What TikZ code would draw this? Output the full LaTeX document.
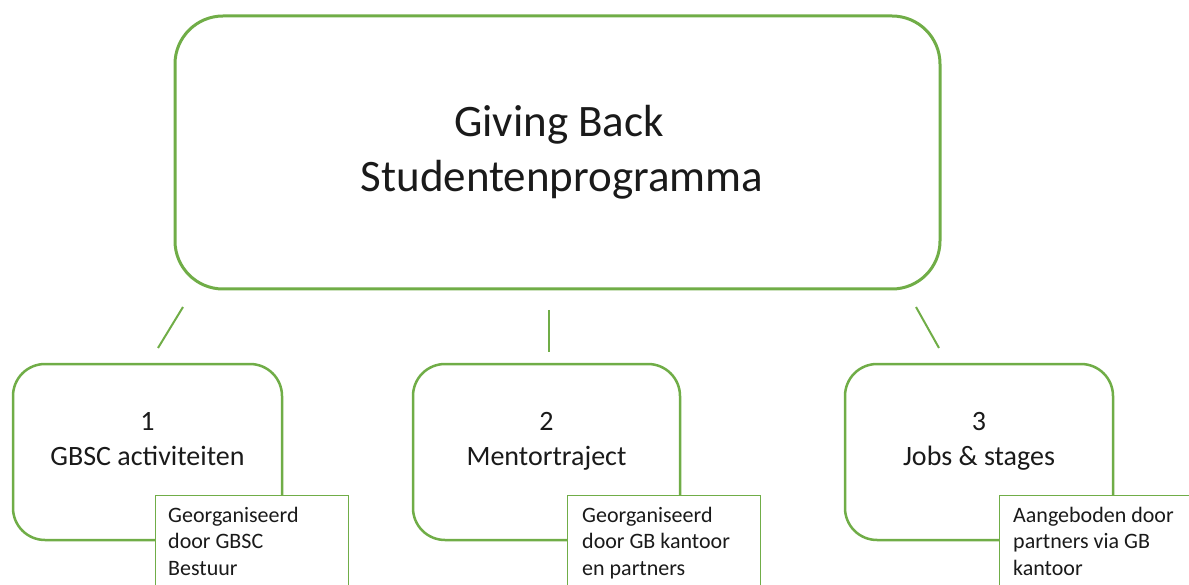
\documentclass[tikz,border=0pt]{standalone}
\usepackage{fontspec}
\setmainfont{Carlito}
\definecolor{gbgreen}{HTML}{70AD47}
\definecolor{txt}{HTML}{1A1A1A}
\begin{document}
\begin{tikzpicture}[x=1pt,y=-1pt,
  mainbox/.style={draw=gbgreen, line width=3pt, rounded corners=48pt, fill=white, inner sep=0pt},
  subbox/.style={draw=gbgreen, line width=2.5pt, rounded corners=32pt, fill=white, inner sep=0pt, minimum height=176pt},
  notebox/.style={draw=gbgreen, line width=1pt, fill=white, inner sep=0pt, anchor=north west, minimum width=193pt, minimum height=110pt},
  conn/.style={draw=gbgreen, line width=2pt},
  titletext/.style={font=\fontsize{45}{55}\selectfont, text=txt, anchor=base, inner sep=0pt},
  boxtext/.style={font=\fontsize{28}{35}\selectfont, text=txt, anchor=base, inner sep=0pt},
  notetext/.style={font=\fontsize{22}{26.5}\selectfont, text=txt, anchor=base west, inner sep=0pt, align=left}
]
\useasboundingbox (0,0) rectangle (1189,585);
\clip (0,0) rectangle (1189,585);

% main box
\node[mainbox, minimum width=765pt, minimum height=273pt] (top) at (557.5,152.5) {};
\node[titletext] (t1) at (559,137) {Giving Back};
\node[titletext] (t2) at (562,192) {Studentenprogramma};

% sub boxes
\node[subbox, minimum width=269pt] (b1) at (147.5,452) {};
\node[subbox, minimum width=267pt] (b2) at (546.5,452) {};
\node[subbox, minimum width=268pt] (b3) at (979,452) {};

\node[boxtext] (n1) at (147.5,430) {1};
\node[boxtext] (l1) at (147.5,465) {GBSC activiteiten};
\node[boxtext] (n2) at (546.5,430) {2};
\node[boxtext] (l2) at (546.5,465) {Mentortraject};
\node[boxtext] (n3) at (979,430) {3};
\node[boxtext] (l3) at (979,465) {Jobs \& stages};

% connectors
\coordinate (c1a) at (183,307);
\coordinate (c1b) at (158,348);
\coordinate (c2a) at (549,310);
\coordinate (c2b) at (549,352);
\coordinate (c3a) at (916,307);
\coordinate (c3b) at (939,348);
\draw[conn] (c1a) -- (c1b);
\draw[conn] (c2a) -- (c2b);
\draw[conn] (c3a) -- (c3b);

% notes
\node[notebox] (nb1) at (155,495) {};
\node[notebox] (nb2) at (567,495) {};
\node[notebox] (nb3) at (999,495) {};
\node[notetext] (nt1) at (168,575) {Georganiseerd\\door GBSC\\Bestuur};
\node[notetext] (nt2) at (582,575) {Georganiseerd\\door GB kantoor\\en partners};
\node[notetext] (nt3) at (1013,575) {Aangeboden door\\partners via GB\\kantoor};
\end{tikzpicture}
\end{document}
